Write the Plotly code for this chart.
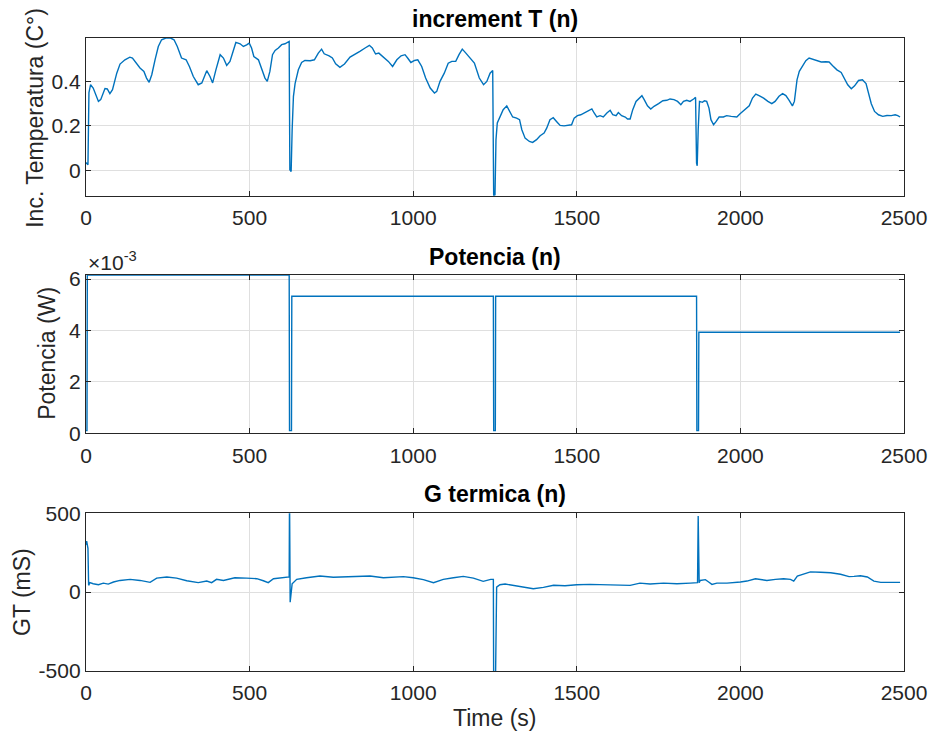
import plotly.graph_objects as go

# ---------------- data ----------------
t_T = [0, 2, 6, 9, 14, 22, 38, 45, 58, 65, 73, 81, 94, 104, 119, 134, 142, 155, 165, 177, 185, 193,
       201, 211, 221, 231, 244, 257, 269, 279, 292, 306, 316, 328, 343, 354, 369, 379, 387, 397, 410,
       420, 430, 440, 450, 458, 471, 481, 491, 499, 506, 513, 527, 537, 547, 554, 562, 570, 578, 588,
       598, 608, 621, 623, 627, 630, 634, 639, 649, 659, 669, 685, 698, 710, 720, 728, 743, 753, 763,
       776, 790, 807, 822, 837, 853, 866, 875, 885, 895, 909, 924, 937, 950, 963, 975, 983, 993, 1004,
       1014, 1026, 1038, 1052, 1065, 1072, 1082, 1095, 1107, 1118, 1130, 1140, 1150, 1161, 1174, 1187,
       1202, 1215, 1225, 1235, 1243, 1246, 1250, 1253, 1257, 1265, 1275, 1286, 1294, 1304, 1316, 1325,
       1332, 1342, 1355, 1365, 1377, 1388, 1400, 1408, 1418, 1428, 1438, 1449, 1461, 1474, 1484, 1492,
       1502, 1512, 1525, 1539, 1546, 1553, 1561, 1571, 1581, 1592, 1602, 1610, 1620, 1627, 1637, 1648,
       1655, 1663, 1671, 1681, 1692, 1699, 1706, 1716, 1726, 1736, 1750, 1763, 1775, 1785, 1797, 1808,
       1818, 1826, 1836, 1846, 1857, 1863, 1866, 1868, 1871, 1875, 1884, 1890, 1897, 1904, 1910, 1918,
       1926, 1935, 1948, 1958, 1972, 1989, 1999, 2012, 2027, 2037, 2047, 2057, 2071, 2084, 2096, 2106,
       2118, 2129, 2139, 2149, 2159, 2165, 2173, 2180, 2190, 2200, 2210, 2220, 2234, 2247, 2261, 2271,
       2282, 2295, 2308, 2318, 2328, 2339, 2349, 2361, 2373, 2384, 2392, 2400, 2410, 2422, 2435, 2448,
       2461, 2473, 2481, 2488]
T_inc = [0.030, 0.033, 0.025, 0.350, 0.385, 0.370, 0.310, 0.318, 0.368, 0.366, 0.345, 0.363, 0.437,
         0.478, 0.497, 0.509, 0.505, 0.482, 0.460, 0.445, 0.415, 0.396, 0.430, 0.497, 0.557, 0.587,
         0.595, 0.596, 0.587, 0.557, 0.505, 0.497, 0.467, 0.422, 0.385, 0.393, 0.448, 0.422, 0.393,
         0.452, 0.520, 0.505, 0.472, 0.490, 0.542, 0.575, 0.569, 0.557, 0.564, 0.572, 0.550, 0.512,
         0.497, 0.460, 0.415, 0.400, 0.445, 0.520, 0.539, 0.550, 0.565, 0.569, 0.580, 0.003, -0.005,
         0.180, 0.333, 0.390, 0.452, 0.485, 0.494, 0.493, 0.497, 0.527, 0.545, 0.524, 0.515, 0.505,
         0.479, 0.463, 0.478, 0.509, 0.521, 0.535, 0.550, 0.562, 0.550, 0.523, 0.527, 0.509, 0.490,
         0.467, 0.497, 0.515, 0.520, 0.505, 0.485, 0.494, 0.497, 0.467, 0.415, 0.370, 0.348, 0.355,
         0.400, 0.437, 0.482, 0.490, 0.490, 0.520, 0.545, 0.527, 0.505, 0.482, 0.415, 0.385, 0.400,
         0.437, 0.449, -0.114, -0.110, 0.138, 0.213, 0.243, 0.273, 0.290, 0.265, 0.240, 0.235, 0.228,
         0.183, 0.145, 0.130, 0.126, 0.138, 0.156, 0.168, 0.190, 0.228, 0.237, 0.220, 0.202, 0.200,
         0.202, 0.205, 0.235, 0.246, 0.250, 0.260, 0.273, 0.276, 0.258, 0.240, 0.246, 0.240, 0.258,
         0.270, 0.250, 0.246, 0.260, 0.246, 0.240, 0.231, 0.231, 0.273, 0.310, 0.325, 0.336, 0.318,
         0.290, 0.276, 0.288, 0.300, 0.313, 0.315, 0.321, 0.318, 0.310, 0.295, 0.310, 0.315, 0.310,
         0.321, 0.328, 0.033, 0.021, 0.183, 0.310, 0.306, 0.313, 0.310, 0.280, 0.228, 0.205, 0.220,
         0.240, 0.240, 0.246, 0.243, 0.240, 0.255, 0.270, 0.290, 0.325, 0.343, 0.336, 0.325, 0.310,
         0.300, 0.310, 0.333, 0.345, 0.336, 0.315, 0.290, 0.310, 0.407, 0.445, 0.470, 0.493, 0.505,
         0.500, 0.493, 0.487, 0.488, 0.487, 0.470, 0.452, 0.440, 0.415, 0.385, 0.367, 0.380, 0.404,
         0.407, 0.390, 0.348, 0.300, 0.265, 0.250, 0.243, 0.247, 0.246, 0.250, 0.246, 0.240]

t_P = [0, 3, 4, 621, 622, 628, 629, 1245, 1246, 1251, 1252, 1866, 1867, 1872, 1873, 2488]
P_w = [0.0001, 0.0001, 0.00616, 0.00616, 0.0001, 0.0001, 0.00533, 0.00533, 0.0001, 0.0001,
       0.00533, 0.00533, 0.0001, 0.0001, 0.00393, 0.00393]

t_G = [0, 2, 6, 8, 12, 22, 38, 53, 68, 84, 104, 135, 165, 196, 216, 247, 277, 308, 343, 369, 384,
       399, 420, 455, 491, 522, 542, 557, 573, 621, 622, 624, 630, 644, 674, 715, 756, 797, 837, 868,
       909, 939, 970, 1000, 1031, 1062, 1092, 1123, 1153, 1184, 1214, 1237, 1245, 1246, 1251, 1255,
       1265, 1281, 1306, 1332, 1367, 1398, 1429, 1464, 1500, 1540, 1591, 1642, 1663, 1693, 1724,
       1765, 1806, 1847, 1869, 1871, 1874, 1877, 1893, 1903, 1913, 1928, 1959, 2000, 2020, 2046,
       2081, 2107, 2132, 2153, 2163, 2174, 2194, 2214, 2245, 2276, 2306, 2332, 2347, 2367, 2388,
       2408, 2429, 2459, 2488]
GT_ms = [300, 323, 277, 43, 60, 53, 47, 57, 51, 64, 74, 81, 74, 62, 89, 96, 89, 72, 60, 70, 60,
         81, 74, 91, 89, 85, 72, 60, 85, 96, 620, -64, 53, 81, 91, 102, 94, 96, 100, 102, 91, 96,
         98, 91, 79, 60, 81, 91, 100, 89, 68, 81, 81, -650, -650, 32, 47, 51, 43, 32, 21, 30, 43,
         40, 47, 49, 47, 43, 43, 57, 51, 57, 53, 57, 60, 483, 60, 74, 79, 64, 49, 57, 57, 64, 70,
         85, 74, 81, 85, 81, 70, 102, 117, 128, 126, 123, 113, 98, 100, 104, 96, 70, 62, 62, 62]

x_ticks = [0, 500, 1000, 1500, 2000, 2500]
y1_ticks = [0, 0.2, 0.4]
y1_text = ["0", "0.2", "0.4"]
y2_ticks = [0, 0.002, 0.004, 0.006]
y2_text = ["0", "2", "4", "6"]
y3_ticks = [-500, 0, 500]
y3_text = ["-500", "0", "500"]

# ---------------- figure ----------------
W, H = 930, 734
L, R, T, B = 86, 904.5, 38.3, 671
LINE = "#0072BD"
AX = "#262626"
GRID = "#dfdfdf"
FONT = "Liberation Sans, Arial, sans-serif"

def px(x):
    return (x - L) / (R - L)

def py(y):
    return (B - y) / (B - T)

fig = go.Figure()
fig.add_trace(go.Scatter(x=t_T, y=T_inc, mode="lines", line=dict(color=LINE, width=1.4),
                         xaxis="x", yaxis="y", showlegend=False))
fig.add_trace(go.Scatter(x=t_P, y=P_w, mode="lines", line=dict(color=LINE, width=1.4),
                         xaxis="x2", yaxis="y2", showlegend=False))
fig.add_trace(go.Scatter(x=t_G, y=GT_ms, mode="lines", line=dict(color=LINE, width=1.4),
                         xaxis="x3", yaxis="y3", showlegend=False))

doms = [(38.3, 196), (275, 433.3), (513.3, 671)]

common_x = dict(range=[0, 2500], tickvals=x_ticks, ticks="inside", ticklen=5, tickwidth=1.3,
                tickcolor=AX, showline=True, linecolor=AX, linewidth=1.3, mirror="ticks",
                showgrid=True, gridcolor=GRID, gridwidth=1, zeroline=False, automargin=False,
                ticklabelstandoff=3,
                tickfont=dict(family=FONT, size=21, color=AX), domain=[0, 1], fixedrange=True)
common_y = dict(ticks="inside", ticklen=5, tickwidth=1.3, tickcolor=AX, showline=True,
                linecolor=AX, linewidth=1.3, mirror="ticks", showgrid=True, gridcolor=GRID,
                gridwidth=1, zeroline=False, automargin=False,
                tickfont=dict(family=FONT, size=21, color=AX), fixedrange=True)

layout = dict(width=W, height=H, margin=dict(l=L, r=W - R, t=T, b=H - B, autoexpand=False),
              plot_bgcolor="white", paper_bgcolor="white", showlegend=False)
layout["xaxis"] = dict(common_x, anchor="y")
layout["xaxis2"] = dict(common_x, anchor="y2")
layout["xaxis3"] = dict(common_x, anchor="y3")
layout["yaxis"] = dict(common_y, anchor="x", range=[-0.114, 0.595], tickvals=y1_ticks,
                       ticktext=y1_text, domain=[py(doms[0][1]), py(doms[0][0])])
layout["yaxis2"] = dict(common_y, anchor="x2", range=[0, 0.006167], tickvals=y2_ticks,
                        ticktext=y2_text, domain=[py(doms[1][1]), py(doms[1][0])])
layout["yaxis3"] = dict(common_y, anchor="x3", range=[-500, 500], tickvals=y3_ticks,
                        ticktext=y3_text, domain=[py(doms[2][1]), min(1, py(doms[2][0]))])
fig.update_layout(**layout)

ann = []
def text(x, y, s, size=23, bold=False, angle=0, color=AX, xanchor="center"):
    ann.append(dict(x=px(x), y=py(y), xref="paper", yref="paper",
                    text=("<b>%s</b>" % s) if bold else s,
                    showarrow=False, textangle=angle, xanchor=xanchor, yanchor="middle",
                    font=dict(family=FONT, size=size, color=color)))

text(495, 19, "increment T (n)", size=23, bold=True, color="black")
text(495, 257, "Potencia (n)", size=23, bold=True, color="black")
text(495, 494, "G termica (n)", size=23, bold=True, color="black")
text(495, 718, "Time (s)")
text(35, 118, "Inc. Temperatura (C°)", angle=-90)
text(47, 354, "Potencia (W)", angle=-90)
text(22, 592, "GT (mS)", angle=-90)
text(86, 261, "×10<sup>-3</sup>", size=21, xanchor="left")
fig.update_layout(annotations=ann)

fig.write_html("out.html")
